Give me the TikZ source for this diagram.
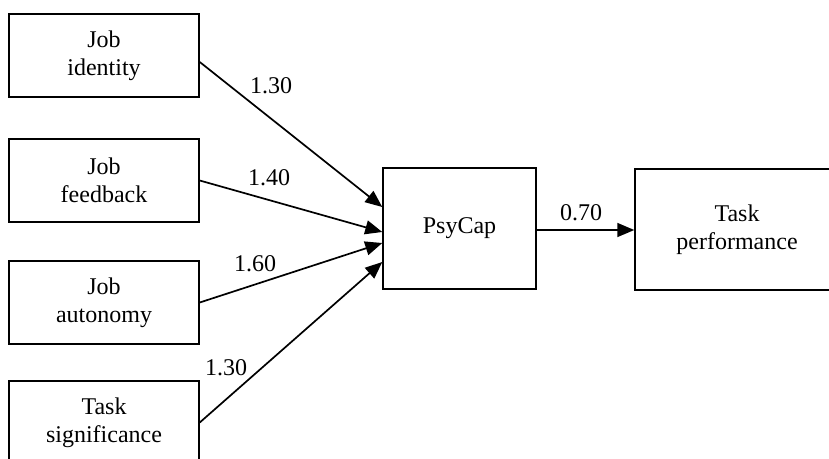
\documentclass[tikz,border=0pt]{standalone}
\usepackage{fontspec}
\setmainfont{Liberation Serif}
\usetikzlibrary{arrows.meta}
\begin{document}
\begin{tikzpicture}[x=1pt,y=-1pt,
  box/.style={draw=black,line width=1.5pt,rectangle,inner sep=0pt,align=center,
    font=\fontsize{24}{28}\selectfont},
  conn/.style={draw=black,line width=1.7pt,-{Triangle[length=17pt,width=14pt]}},
  lbl/.style={inner sep=0pt,font=\fontsize{24}{28}\selectfont}]
\useasboundingbox (0,0) rectangle (829,458);
\clip (0,0) rectangle (829,458);
\fill[white] (0,0) rectangle (829,458);
\node[box,minimum width=190pt,minimum height=83pt] (b1) at (104,55.5) {Job\\identity};
\node[box,minimum width=190pt,minimum height=83pt] (b2) at (104,180.5) {Job\\feedback};
\node[box,minimum width=190pt,minimum height=83pt] (b3) at (104,302.5) {Job\\autonomy};
\node[box,minimum width=190pt,minimum height=83pt] (b4) at (104,422.5) {Task\\significance};
\node[box,minimum width=153pt,minimum height=121pt] (ps) at (459.5,228.5) {PsyCap};
\node[box,minimum width=204pt,minimum height=121pt] (tp) at (737,229.5) {Task\\performance};
\draw[conn] ([yshift=-6.5pt]b1.east) -- ([yshift=21.5pt]ps.west);
\draw[conn] (b2.east) -- ([yshift=-3.5pt]ps.west);
\draw[conn] (b3.east) -- ([yshift=-14.5pt]ps.west);
\draw[conn] (b4.east) -- ([yshift=-33.5pt]ps.west);
\draw[conn] ([yshift=-1.5pt]ps.east) -- ([yshift=-1.5pt]ps.east -| tp.west);
\node[lbl] (l1) at (271,86) {1.30};
\node[lbl] (l2) at (269,178) {1.40};
\node[lbl] (l3) at (255,264) {1.60};
\node[lbl] (l4) at (226,368) {1.30};
\node[lbl] (l5) at (581,212.5) {0.70};
\end{tikzpicture}
\end{document}
